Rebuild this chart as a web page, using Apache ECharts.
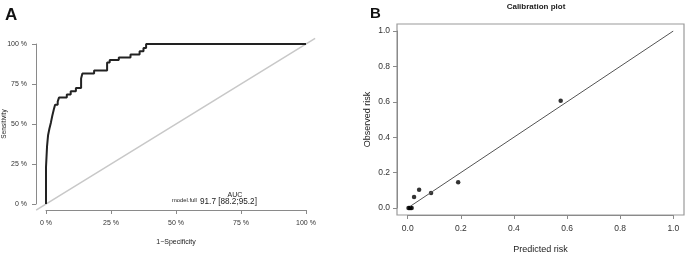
<!DOCTYPE html>
<html>
<head>
<meta charset="utf-8">
<script src="https://cdn.jsdelivr.net/npm/echarts@6/dist/echarts.min.js"></script>
<style>
  html, body { margin: 0; padding: 0; background: #fff; }
  #chart { width: 685px; height: 254px; }
</style>
</head>
<body>
<div id="chart"></div>
<script>
// ROC curve (panel A), values in %
const rocFpr = [0, 0, 0.4, 0.4, 0.8, 0.8, 1.3, 1.3, 1.9, 1.9, 2.4, 2.4, 3.0, 3.0, 3.5, 3.5, 4.5, 4.5, 5.0, 5.0, 8.0, 8.0, 9.5, 9.5, 11.5, 11.5, 13.5, 13.5, 14.0, 14.0, 18.5, 18.5, 23.5, 23.5, 24.5, 24.5, 28.0, 28.0, 32.5, 32.5, 36.0, 36.0, 37.5, 37.5, 38.5, 38.5, 100]
const rocTpr = [0, 23, 23, 36, 36, 43, 43, 47, 47, 51, 51, 55, 55, 59, 59, 62, 62, 64, 64, 66.5, 66.5, 68.5, 68.5, 70.5, 70.5, 72.5, 72.5, 78.5, 78.5, 81.5, 81.5, 83.5, 83.5, 88.5, 88.5, 90, 90, 91.5, 91.5, 93.5, 93.5, 95.5, 95.5, 97.5, 97.5, 100, 100]
const rocRef = [[-3.8, -3.8], [103.5, 103.5]]
const rocTicks = [0, 25, 50, 75, 100]

// calibration plot (panel B)
const predRisk = [0.003, 0.007, 0.011, 0.015, 0.024, 0.043, 0.088, 0.19, 0.576]
const obsRisk = [0, 0, 0, 0, 0.062, 0.103, 0.085, 0.145, 0.606]
const calibRef = [[0.01, 0.01], [1, 1]]

const chart = echarts.init(document.getElementById('chart'))

const axisGrey = '#8a8a8a'
const font = 'Liberation Sans, Arial, sans-serif'
const txt = (size, weight) => ({ fontSize: size, fontWeight: weight || 'normal', color: '#222', fontFamily: font })
const line = { show: true, onZero: false, lineStyle: { color: axisGrey, width: 1 } }
const tick = { show: true, inside: false, length: 4, lineStyle: { color: axisGrey } }

chart.setOption({
  animation: false,
  title: [
    { text: 'A', left: 5, top: 7, padding: 0, textStyle: { ...txt(17, 'bold'), color: '#111' } },
    { text: 'B', left: 370, top: 6.5, padding: 0, textStyle: { ...txt(15, 'bold'), color: '#111' } },
    { text: 'Calibration plot', left: 536, top: 2.5, padding: 0, textAlign: 'center', textStyle: txt(8, 'bold') },
    { text: 'AUC', left: 235, top: 192, padding: 0, textAlign: 'center', textStyle: txt(7) },
    { text: 'model.full', left: 172, top: 197.5, padding: 0, textStyle: txt(5.8) },
    { text: '91.7 [88.2;95.2]', left: 200, top: 197.8, padding: 0, textStyle: txt(8.2) }
  ],
  grid: [
    { left: 46, top: 44, width: 260, height: 160, outerBoundsMode: 'none', containLabel: false },
    { left: 407.7, top: 31, width: 265.6, height: 177, outerBoundsMode: 'none', containLabel: false },
    // box around panel B
    { left: 397, top: 24, width: 287, height: 191, show: true, borderColor: '#9a9a9a', borderWidth: 1.2, backgroundColor: 'transparent', outerBoundsMode: 'none', containLabel: false },
    // full plot region of panel A (R adds 4% on each side), used for the reference diagonal
    { left: 35.6, top: 37.6, width: 280.8, height: 172.8, outerBoundsMode: 'none', containLabel: false }
  ],
  xAxis: [
    {
      gridIndex: 0, type: 'value', min: 0, max: 100, interval: 25, offset: 6,
      name: '1\u2212Specificity', nameLocation: 'middle', nameGap: 28.5, nameMoveOverlap: false,
      nameTextStyle: txt(7),
      axisLine: line, axisTick: tick,
      axisLabel: { fontSize: 7, color: '#333', margin: 10, fontFamily: font, formatter: v => rocTicks.includes(v) ? v + ' %' : '' },
      splitLine: { show: false }
    },
    {
      gridIndex: 1, type: 'value', min: 0, max: 1, interval: 0.2, offset: 7,
      name: 'Predicted risk', nameLocation: 'middle', nameGap: 30.5, nameMoveOverlap: false,
      nameTextStyle: txt(9),
      axisLine: line, axisTick: tick,
      axisLabel: { fontSize: 8.5, color: '#333', margin: 9.5, fontFamily: font, formatter: v => v.toFixed(1) },
      splitLine: { show: false }
    },
    { gridIndex: 2, type: 'value', show: false, min: 0, max: 1 },
    { gridIndex: 3, type: 'value', show: false, min: -4, max: 104 }
  ],
  yAxis: [
    {
      gridIndex: 0, type: 'value', min: 0, max: 100, interval: 25, offset: 10,
      name: 'Sensitivity', nameLocation: 'middle', nameGap: 28.5, nameMoveOverlap: false,
      nameTextStyle: txt(6.5),
      axisLine: line, axisTick: tick,
      axisLabel: { fontSize: 7, color: '#333', margin: 9, fontFamily: font, formatter: v => v + ' %' },
      splitLine: { show: false }
    },
    {
      gridIndex: 1, type: 'value', min: 0, max: 1, interval: 0.2, offset: 10.7,
      name: 'Observed risk', nameLocation: 'middle', nameGap: 24.5, nameMoveOverlap: false,
      nameTextStyle: txt(9),
      axisLine: line, axisTick: tick,
      axisLabel: { fontSize: 8.5, color: '#333', margin: 7, fontFamily: font, formatter: v => v.toFixed(1) },
      splitLine: { show: false }
    },
    { gridIndex: 2, type: 'value', show: false, min: 0, max: 1 },
    { gridIndex: 3, type: 'value', show: false, min: -4, max: 104 }
  ],
  series: [
    {
      type: 'line', xAxisIndex: 3, yAxisIndex: 3, data: rocRef,
      symbol: 'none', lineStyle: { color: '#c8c8c8', width: 1.5 }, z: 1
    },
    {
      type: 'line', xAxisIndex: 0, yAxisIndex: 0, clip: false,
      data: rocFpr.map((x, i) => [x, rocTpr[i]]),
      symbol: 'none', lineStyle: { color: '#222', width: 2 }, z: 2
    },
    {
      type: 'line', xAxisIndex: 1, yAxisIndex: 1, data: calibRef,
      symbol: 'none', lineStyle: { color: '#555', width: 1 }
    },
    {
      type: 'scatter', xAxisIndex: 1, yAxisIndex: 1, clip: false,
      data: predRisk.map((x, i) => [x, obsRisk[i]]),
      symbol: 'circle', symbolSize: 4.5, itemStyle: { color: '#000' }
    }
  ]
})
</script>
</body>
</html>
